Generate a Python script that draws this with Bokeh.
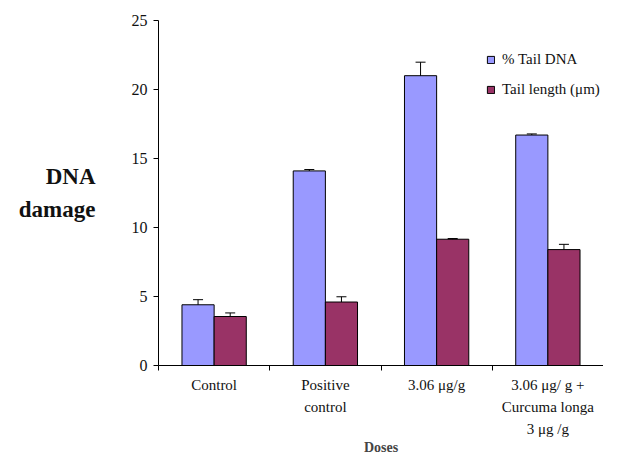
from bokeh.plotting import figure
from bokeh.models import (ColumnDataSource, Whisker, TeeHead, FixedTicker, Legend,
                          LegendItem, Range1d)
from bokeh.embed import file_html
from bokeh.resources import INLINE

categories = ["Control", "Positive\ncontrol", "3.06 μg/g", "3.06 μg/ g +\nCurcuma longa\n3 μg /g"]
tail_dna = [4.4, 14.1, 21.0, 16.7]
tail_dna_err = [0.37, 0.1, 0.98, 0.08]
tail_len = [3.55, 4.6, 9.15, 8.4]
tail_len_err = [0.26, 0.38, 0.05, 0.38]
y_ticks = [0, 5, 10, 15, 20, 25]

BLUE = "#9999FF"
MAROON = "#993366"
FONT = "Liberation Serif"
W = 0.289
n = len(categories)
centers = [i + 0.5 for i in range(n)]

src_a = ColumnDataSource(dict(x=[c - W / 2 for c in centers], top=tail_dna,
                              upper=[v + e for v, e in zip(tail_dna, tail_dna_err)],
                              lower=[v - e for v, e in zip(tail_dna, tail_dna_err)]))
src_b = ColumnDataSource(dict(x=[c + W / 2 for c in centers], top=tail_len,
                              upper=[v + e for v, e in zip(tail_len, tail_len_err)],
                              lower=[v - e for v, e in zip(tail_len, tail_len_err)]))

p = figure(width=603, height=458, output_backend="svg", toolbar_location=None,
           x_range=Range1d(0, n), y_range=Range1d(0, 25),
           min_border_left=158, min_border_right=0, min_border_top=20, min_border_bottom=92)
p.outline_line_color = None
p.grid.grid_line_color = None
p.background_fill_color = "white"

ra = p.vbar(x="x", top="top", width=W, source=src_a, fill_color=BLUE, line_color="black", line_width=1)
rb = p.vbar(x="x", top="top", width=W, source=src_b, fill_color=MAROON, line_color="black", line_width=1)

for s in (src_a, src_b):
    p.add_layout(Whisker(source=s, base="x", upper="upper", lower="lower", line_color="black",
                         line_width=1,
                         upper_head=TeeHead(size=10, line_color="black", line_width=1),
                         lower_head=TeeHead(size=10, line_color="black", line_width=1)))

# y axis
p.yaxis.ticker = FixedTicker(ticks=y_ticks)
p.yaxis.minor_tick_line_color = None
p.yaxis.major_tick_in = 0
p.yaxis.major_tick_out = 5
p.yaxis.major_label_standoff = 6
p.yaxis.major_label_text_font = FONT
p.yaxis.major_label_text_font_size = "16px"
p.yaxis.major_label_text_color = "#111111"
p.yaxis.axis_line_color = "black"
p.yaxis.axis_label = "DNA\ndamage"
p.yaxis.axis_label_orientation = "horizontal"
p.yaxis.axis_label_standoff = 33
p.yaxis.axis_label_text_font = FONT
p.yaxis.axis_label_text_font_style = "bold"
p.yaxis.axis_label_text_font_size = "23px"
p.yaxis.axis_label_text_line_height = 1.35
p.yaxis.axis_label_text_align = "left"
p.yaxis.axis_label_text_color = "#111111"

# x axis: labels at centres, tick marks at boundaries (minor ticks)
p.xaxis.ticker = FixedTicker(ticks=centers, minor_ticks=list(range(n + 1)))
p.xaxis.major_label_overrides = {c: lab for c, lab in zip(centers, categories)}
p.xaxis.major_tick_in = 0
p.xaxis.major_tick_out = 0
p.xaxis.minor_tick_in = 0
p.xaxis.minor_tick_out = 5
p.xaxis.minor_tick_line_color = "black"
p.xaxis.major_label_standoff = 6
p.xaxis.major_label_text_font = FONT
p.xaxis.major_label_text_font_size = "15px"
p.xaxis.major_label_text_line_height = 1.4
p.xaxis.major_label_text_color = "#111111"
p.xaxis.axis_label = "Doses"
p.xaxis.axis_label_text_font = FONT
p.xaxis.axis_label_text_font_style = "bold"
p.xaxis.axis_label_text_font_size = "14px"
p.xaxis.axis_label_standoff = 0

legend = Legend(items=[LegendItem(label="% Tail DNA", renderers=[ra]),
                       LegendItem(label="Tail length (μm)", renderers=[rb])],
                location=(328, 266), glyph_width=9, glyph_height=9, label_height=20,
                spacing=10, padding=0, margin=0, label_standoff=7,
                border_line_color=None, background_fill_alpha=0,
                label_text_font=FONT, label_text_font_size="15px", label_text_color="#111111")
p.add_layout(legend)

open("out.html", "w").write(file_html(p, INLINE))
